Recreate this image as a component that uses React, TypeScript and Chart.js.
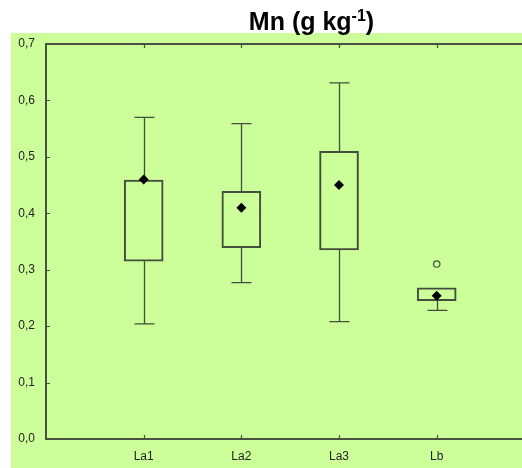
import { useEffect, useRef } from 'react';
import { Chart, registerables } from 'chart.js';

Chart.register(...registerables);

const categories = ['La1', 'La2', 'La3', 'Lb'];
const whiskerLow = [0.204, 0.277, 0.208, 0.228];
const q1 = [0.315, 0.339, 0.335, 0.245];
const q3 = [0.459, 0.439, 0.51, 0.268];
const whiskerHigh = [0.57, 0.559, 0.631, 0.268];
const means = [0.46, 0.41, 0.45, 0.254];
const outlierCategory = ['Lb'];
const outlierValues = [0.31];
const yTickValues = [0, 0.1, 0.2, 0.3, 0.4, 0.5, 0.6, 0.7];

const LINE = '#434e3c';
const AXIS = '#46523f';
const GREEN = '#ccff99';
const TEXT = '#222222';
const FONT = 'Liberation Sans, Arial, sans-serif';

const decoPlugin = {
  id: 'deco',
  beforeDraw(chart: any) {
    const ctx = chart.ctx;
    ctx.save();
    ctx.fillStyle = '#ffffff';
    ctx.fillRect(0, 0, chart.width, chart.height);
    ctx.fillStyle = GREEN;
    ctx.fillRect(11, 33, chart.width - 11, chart.height - 33);
    ctx.restore();
  },
  beforeDatasetsDraw(chart: any) {
    const ctx = chart.ctx;
    const xs = chart.scales.x;
    const ys = chart.scales.y;
    ctx.save();
    ctx.strokeStyle = LINE;
    ctx.lineWidth = 1.3;
    categories.forEach((_, i) => {
      const x = Math.round(xs.getPixelForValue(i + 1)) + 0.5;
      const lo = ys.getPixelForValue(whiskerLow[i]);
      const b = ys.getPixelForValue(q1[i]);
      const t = ys.getPixelForValue(q3[i]);
      const hi = ys.getPixelForValue(whiskerHigh[i]);
      ctx.beginPath();
      ctx.moveTo(x, lo);
      ctx.lineTo(x, b);
      ctx.moveTo(x - 10, lo);
      ctx.lineTo(x + 10, lo);
      if (whiskerHigh[i] > q3[i]) {
        ctx.moveTo(x, t);
        ctx.lineTo(x, hi);
        ctx.moveTo(x - 10, hi);
        ctx.lineTo(x + 10, hi);
      }
      ctx.stroke();
    });
    ctx.restore();
  },
  afterDraw(chart: any) {
    const ctx = chart.ctx;
    const area = chart.chartArea;
    const xs = chart.scales.x;
    const ys = chart.scales.y;
    ctx.save();
    ctx.strokeStyle = AXIS;
    ctx.lineWidth = 2;
    ctx.beginPath();
    ctx.moveTo(area.left - 1, area.top);
    ctx.lineTo(chart.width, area.top);
    ctx.moveTo(area.right - 2, area.bottom);
    ctx.lineTo(chart.width, area.bottom);
    ctx.stroke();
    ctx.lineWidth = 1.2;
    ctx.beginPath();
    yTickValues.forEach((v) => {
      const y = Math.round(ys.getPixelForValue(v)) + 0.5;
      ctx.moveTo(area.left, y);
      ctx.lineTo(area.left + 4, y);
    });
    categories.forEach((_, i) => {
      const x = Math.round(xs.getPixelForValue(i + 1)) + 0.5;
      ctx.moveTo(x, area.bottom);
      ctx.lineTo(x, area.bottom - 4);
      ctx.moveTo(x, area.top);
      ctx.lineTo(x, area.top + 4);
    });
    ctx.stroke();
    const mainFont = `bold 25px ${FONT}`;
    const supFont = `bold 16px ${FONT}`;
    const p1 = 'Mn (g kg';
    const p2 = '-1';
    const p3 = ')';
    ctx.font = mainFont;
    const w1 = ctx.measureText(p1).width;
    const w3 = ctx.measureText(p3).width;
    ctx.font = supFont;
    const w2 = ctx.measureText(p2).width;
    const total = w1 + w2 + w3;
    let x = 311.5 - total / 2;
    const base = 29.5;
    ctx.fillStyle = '#000';
    ctx.textBaseline = 'alphabetic';
    ctx.textAlign = 'left';
    ctx.font = mainFont;
    ctx.fillText(p1, x, base);
    x += w1;
    ctx.font = supFont;
    ctx.fillText(p2, x, base - 9);
    x += w2;
    ctx.font = mainFont;
    ctx.fillText(p3, x, base);
    ctx.restore();
  },
};

export default function App() {
  const ref = useRef<HTMLCanvasElement | null>(null);
  useEffect(() => {
    if (!ref.current) return;
    const chart = new Chart(ref.current, {
      type: 'bar',
      data: {
        datasets: [
          {
            type: 'scatter',
            data: categories.map((_, i) => ({ x: i + 1, y: means[i] })),
            pointStyle: 'rectRot',
            pointRadius: 5,
            backgroundColor: '#000',
            borderColor: '#000',
            borderWidth: 0,
            order: 0,
          } as any,
          {
            type: 'scatter',
            data: outlierCategory.map((c, i) => ({ x: categories.indexOf(c) + 1, y: outlierValues[i] })),
            pointStyle: 'circle',
            pointRadius: 3.2,
            backgroundColor: 'rgba(0,0,0,0)',
            borderColor: LINE,
            borderWidth: 1.2,
            order: 1,
          } as any,
          {
            type: 'bar',
            data: categories.map((_, i) => ({ x: i + 1, y: [q1[i], q3[i]] })),
            backgroundColor: 'rgba(0,0,0,0)',
            borderColor: LINE,
            borderWidth: 1.4,
            borderSkipped: false,
            barThickness: 39,
            grouped: false,
            order: 2,
          } as any,
        ],
      },
      options: {
        responsive: false,
        animation: false,
        devicePixelRatio: 1,
        layout: { padding: { top: 44, left: 0, right: 0, bottom: 0 } },
        plugins: { legend: { display: false }, tooltip: { enabled: false } },
        scales: {
          x: {
            type: 'linear',
            offset: false,
            min: 0,
            max: 4.82,
            grid: { display: false, drawTicks: false },
            border: { display: true, color: AXIS, width: 2 },
            afterBuildTicks: (scale: any) => {
              scale.ticks = categories.map((_, i) => ({ value: i + 1 }));
            },
            afterFit: (scale: any) => {
              scale.height = 29;
            },
            ticks: {
              autoSkip: false,
              maxRotation: 0,
              padding: 10,
              color: TEXT,
              font: { family: FONT, size: 12 },
              callback: (v: any) => categories[Math.round(Number(v)) - 1] ?? '',
            },
          },
          y: {
            type: 'linear',
            min: 0,
            max: 0.7,
            grid: { display: false, drawTicks: false },
            border: { display: true, color: AXIS, width: 2 },
            afterBuildTicks: (scale: any) => {
              scale.ticks = yTickValues.map((v) => ({ value: v }));
            },
            afterFit: (scale: any) => {
              scale.width = 46;
            },
            ticks: {
              padding: 11,
              color: TEXT,
              font: { family: FONT, size: 12 },
              callback: (v: any) => Number(v).toFixed(1).replace('.', ','),
            },
          },
        },
      },
      plugins: [decoPlugin],
    } as any);
    return () => chart.destroy();
  }, []);
  return (
    <div style={{ position: 'absolute', left: 0, top: 0, width: 522, height: 468 }}>
      <canvas ref={ref} width={522} height={468} style={{ display: 'block' }} />
    </div>
  );
}
